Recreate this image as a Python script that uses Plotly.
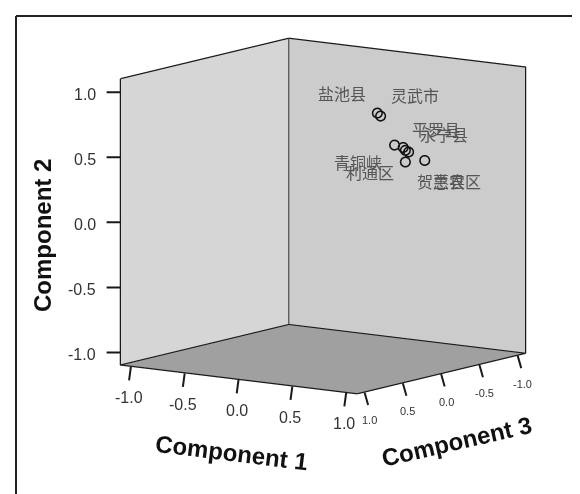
import plotly.graph_objects as go

# Data (component loadings)
labels = ["盐池县", "灵武市", "青铜峡", "平罗县", "利通区", "永宁县", "贺兰县", "惠农区"]
comp1 = [0.36, 0.39, 0.52, 0.60, 0.62, 0.65, 0.62, 0.80]
comp2 = [0.80, 0.78, 0.57, 0.56, 0.54, 0.53, 0.45, 0.48]
comp3 = [-0.20, -0.20, -0.20, -0.20, -0.20, -0.20, -0.20, -0.20]
tick_vals = [-1.0, -0.5, 0.0, 0.5, 1.0]
tick_text = ["-1.0", "-0.5", "0.0", "0.5", "1.0"]
axis_titles = ["Component 1", "Component 2", "Component 3"]

# label offsets (style): placement of each label around its point
label_dx = [-35, 35, -36, 33, -35, 36, 36, 33]
label_dy = [20, 21, -17, 19, -21, 18, -19, -20]

LO, HI = -1.1, 1.1

fig = go.Figure()

# box edges (x = Component 3, y = Component 1, z = Component 2)
ex = [HI, LO, LO, LO, HI, HI, HI, None, HI, LO, LO, None, LO, LO]
ey = [LO, LO, HI, HI, HI, LO, LO, None, LO, LO, HI, None, LO, LO]
ez = [HI, HI, HI, LO, LO, LO, HI, None, LO, LO, LO, None, LO, HI]
fig.add_trace(go.Scatter3d(x=ex, y=ey, z=ez, mode="lines",
                           line=dict(color="#1a1a1a", width=2.5),
                           hoverinfo="skip", showlegend=False))

fig.add_trace(go.Scatter3d(
    x=comp3, y=comp1, z=comp2, mode="markers",
    marker=dict(size=6, color="#111", symbol="circle-open", line=dict(color="#111", width=2)),
    text=labels, hoverinfo="text", showlegend=False))

annos = []
for lab, a, b, c, dx, dy in zip(labels, comp3, comp1, comp2, label_dx, label_dy):
    annos.append(dict(x=a, y=b, z=c, text=lab, showarrow=False,
                      xshift=dx, yshift=dy,
                      font=dict(family="Noto Sans CJK SC", size=16, color="#555555")))

# tick marks and tick labels, drawn flat like the original
tick_font_big = dict(family="Liberation Sans", size=16, color="#333")
tick_font_small = dict(family="Liberation Sans", size=11, color="#333")
tick_mark = dict(text="", showarrow=True, arrowhead=0, arrowwidth=2, arrowcolor="#1a1a1a",
                 standoff=0, startstandoff=0)
for tv, tt in zip(tick_vals, tick_text):
    # Component 1 (scene y) along front-left floor edge
    annos.append(dict(tick_mark, x=HI, y=tv, z=LO, ax=-2, ay=15))
    annos.append(dict(x=HI, y=tv, z=LO, text=tt, showarrow=False,
                      xanchor="center", yanchor="middle", xshift=-2, yshift=-31,
                      font=tick_font_big))
    # Component 3 (scene x) along front-right floor edge
    annos.append(dict(tick_mark, x=tv, y=HI, z=LO, ax=4, ay=14))
    annos.append(dict(x=tv, y=HI, z=LO, text=tt, showarrow=False,
                      xanchor="center", yanchor="middle", xshift=5, yshift=-28,
                      font=tick_font_small))
    # Component 2 (scene z) along left vertical edge
    annos.append(dict(tick_mark, x=HI, y=LO, z=tv, ax=-15, ay=0))
    annos.append(dict(x=HI, y=LO, z=tv, text=tt, showarrow=False,
                      xanchor="right", yanchor="middle", xshift=-22, yshift=-2,
                      font=tick_font_big))

axis_common = dict(range=[LO, HI], tickvals=tick_vals, ticktext=tick_text,
                   showgrid=False, zeroline=False, showline=False,
                   ticks="", showticklabels=False,
                   showbackground=True, showspikes=False, title_text="")

title_font = dict(family="Liberation Sans", size=24, color="#111", weight="bold")

fig.update_layout(
    width=580, height=494,
    margin=dict(l=0, r=0, t=0, b=0),
    paper_bgcolor="white",
    font=dict(family="Liberation Sans", color="#222"),
    scene=dict(
        domain=dict(x=[0.134, 0.9512], y=[0.1731, 0.9828]),
        aspectmode="manual",
        aspectratio=dict(x=1.453, y=1.453, z=1.453),
        xaxis=dict(axis_common, backgroundcolor="#cccccc"),
        yaxis=dict(axis_common, backgroundcolor="#d6d6d6"),
        zaxis=dict(axis_common, backgroundcolor="#a0a0a0"),
        camera=dict(projection=dict(type="orthographic"),
                    eye=dict(x=1.606, y=1.142, z=0.342),
                    center=dict(x=0, y=0, z=0),
                    up=dict(x=0, y=0, z=1)),
        annotations=annos,
    ),
    annotations=[
        dict(text=axis_titles[0], x=223/580, y=1-444/494, xref="paper", yref="paper",
             xanchor="center", yanchor="middle",
             showarrow=False, textangle=7, font=title_font),
        dict(text=axis_titles[1], x=34/580, y=1-228/494, xref="paper", yref="paper",
             xanchor="center", yanchor="middle",
             showarrow=False, textangle=-90, font=title_font),
        dict(text=axis_titles[2], x=448/580, y=1-433/494, xref="paper", yref="paper",
             xanchor="center", yanchor="middle",
             showarrow=False, textangle=-13, font=title_font),
    ],
    shapes=[
        dict(type="line", xref="paper", yref="paper", x0=8/580, x1=1, y0=1-8/494, y1=1-8/494,
             line=dict(color="#222", width=2)),
        dict(type="line", xref="paper", yref="paper", x0=8/580, x1=8/580, y0=0, y1=1-8/494,
             line=dict(color="#222", width=2)),
    ],
)

fig.write_html("out.html")
